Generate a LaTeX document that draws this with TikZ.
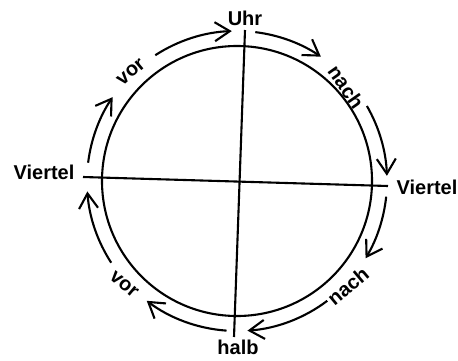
\documentclass[tikz,border=0pt]{standalone}
\usepackage{fontspec}
\setmainfont{Liberation Sans}
\usetikzlibrary{arrows.meta}
\begin{document}
\begin{tikzpicture}[x=1pt,y=1pt,
  lbl/.style={inner sep=0pt,font=\fontsize{20}{24}\selectfont\bfseries},
  ring/.style={line width=2.1pt},
  cw/.style={line width=2.1pt,-{Straight Barb[length=15pt,width=19pt,line width=2.1pt]}}]
\useasboundingbox (0,0) rectangle (458,360);
\coordinate (c) at (237,179);
% clock face
\draw[ring] (c) circle[radius=135pt];
\coordinate (vt) at (245,330);
\coordinate (vb) at (234,23);
\coordinate (hl) at (83,183);
\coordinate (hr) at (388,174);
\draw[ring] (vt) -- (vb);
\draw[ring] (hl) -- (hr);
% labels
\node[lbl] (uhr) at (245,342) {Uhr};
\node[lbl] (halb) at (238,13) {halb};
\node[lbl] (vl) at (44,188) {Viertel};
\node[lbl] (vr) at (427,173) {Viertel};
\node[lbl,rotate=40] (vor1) at (131,288) {vor};
\node[lbl,rotate=-55] (nach1) at (346,273) {nach};
\node[lbl,rotate=40] (nach2) at (348,74) {nach};
\node[lbl,rotate=-40] (vor2) at (124,76) {vor};
% clockwise arrows
\draw[cw] ([shift={(173:150pt)}]c) arc[start angle=173,end angle=146,radius=150pt];
\draw[cw] ([shift={(123:150pt)}]c) arc[start angle=123,end angle=92,radius=150pt];
\draw[cw] ([shift={(83:150pt)}]c) arc[start angle=83,end angle=56,radius=150pt];
\draw[cw] ([shift={(30:150pt)}]c) arc[start angle=30,end angle=2,radius=150pt];
\draw[cw] ([shift={(-6:150pt)}]c) arc[start angle=-6,end angle=-31,radius=150pt];
\draw[cw] ([shift={(-53:150pt)}]c) arc[start angle=-53,end angle=-86,radius=150pt];
\draw[cw] ([shift={(-94:150pt)}]c) arc[start angle=-94,end angle=-127,radius=150pt];
\draw[cw] ([shift={(-147:150pt)}]c) arc[start angle=-147,end angle=-176,radius=150pt];
\end{tikzpicture}
\end{document}
